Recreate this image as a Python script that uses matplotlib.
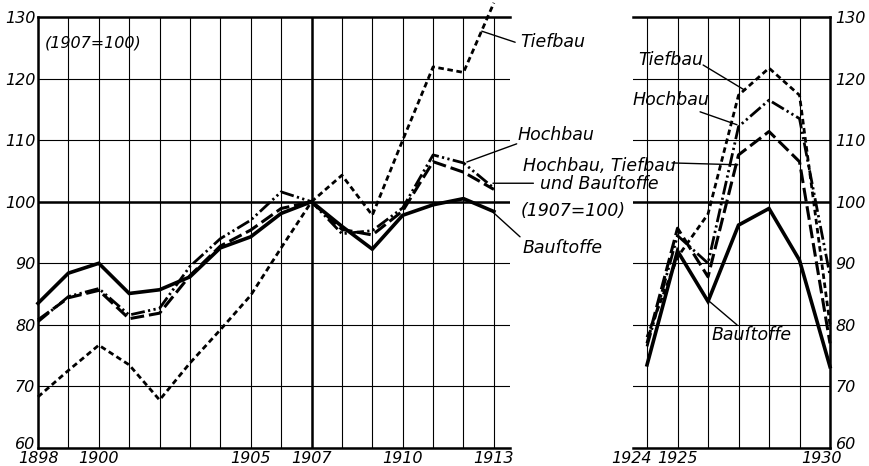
import matplotlib
matplotlib.use("Agg")
import matplotlib.pyplot as plt
from matplotlib.transforms import ScaledTranslation

plt.rcParams['font.family'] = ['DejaVu Sans']
plt.rcParams['font.style'] = 'italic'

# 1898-1913 (1907=100)
years_a = list(range(1898, 1914))
baustoffe_a = [83.5, 88.4, 90.0, 85.1, 85.7, 87.8, 92.5, 94.3, 98.1, 100, 96.0, 92.3, 97.8, 99.5, 100.5, 98.4]
hochbau_a = [80.5, 84.6, 85.9, 81.6, 82.7, 89.5, 94.0, 97.0, 101.6, 100, 94.8, 95.3, 99.0, 107.6, 106.3, 102.2]
tiefbau_a = [68.3, 72.6, 76.7, 73.5, 67.8, 73.8, 79.2, 84.8, 92.5, 100, 104.3, 97.8, 110.0, 121.9, 121.0, 132.3]
gesamt_a = [80.8, 84.4, 85.6, 81.0, 81.9, 88.0, 92.8, 95.4, 98.9, 100, 95.5, 94.6, 98.5, 106.5, 104.8, 102.0]

# 1924-1930
years_b = list(range(1924, 1931))
baustoffe_b = [73.5, 92.0, 83.8, 96.2, 98.9, 90.5, 73.2]
hochbau_b = [76.5, 94.5, 90.0, 112.2, 116.5, 113.5, 88.0]
tiefbau_b = [78.0, 91.0, 98.0, 117.3, 121.7, 117.3, 80.0]
gesamt_b = [77.0, 95.7, 87.8, 107.6, 111.4, 106.5, 77.0]

xlabels_a = {1898: '1898', 1900: '1900', 1905: '1905', 1907: '1907', 1910: '1910', 1913: '1913'}
xlabels_b = {1924: '1924', 1925: '1925', 1930: '1930'}
yticks = [60, 70, 80, 90, 100, 110, 120, 130]

FS = 11.5

fig = plt.figure(figsize=(8.69, 4.66), dpi=100)
ax1 = fig.add_axes([38/869, 18/466, 472/869, 431/466])
ax2 = fig.add_axes([633/869, 18/466, 197/869, 431/466])


def draw(ax, x, b, h, t, g):
    ax.plot(x, t, color='black', lw=2.0, dashes=(2.0, 1.3), clip_on=False, zorder=3)
    ax.plot(x, h, color='black', lw=2.0, dashes=(5, 1.2, 0.8, 1.2, 0.8, 1.2), clip_on=False, zorder=3)
    ax.plot(x, g, color='black', lw=2.2, dashes=(4.5, 1.6), clip_on=False, zorder=3)
    ax.plot(x, b, color='black', lw=2.6, solid_joinstyle='miter', clip_on=False, zorder=4)


def frame(ax, years, labels, xlim, side):
    ax.set_xlim(*xlim)
    ax.set_ylim(60, 130)
    ax.set_xticks(years)
    ax.set_xticklabels([labels.get(y, '') for y in years], fontsize=FS)
    ax.set_yticks(yticks)
    ax.set_yticklabels([str(v) for v in yticks], fontsize=FS)
    ax.tick_params(length=0, pad=2)
    ax.grid(True, color='black', lw=0.8)
    ax.axhline(100, color='black', lw=1.8, zorder=2)
    for s in ['top', 'bottom']:
        ax.spines[s].set_linewidth(1.8)
    if side == 'left':
        ax.spines['right'].set_visible(False)
        ax.spines['left'].set_linewidth(1.8)
    else:
        ax.spines['left'].set_visible(False)
        ax.spines['right'].set_linewidth(1.8)
        ax.yaxis.tick_right()
        ax.tick_params(axis='y', pad=4)
    # lift the lowest value label a little off the year labels
    ax.get_yticklabels()[0].set_transform(
        ax.get_yticklabels()[0].get_transform() + ScaledTranslation(0, 5/100, fig.dpi_scale_trans))


frame(ax1, years_a, xlabels_a, (1898, 1913.53), 'left')
ax1.axvline(1907, color='black', lw=1.8, zorder=2)
frame(ax2, years_b, xlabels_b, (1923.54, 1930), 'right')

draw(ax1, years_a, baustoffe_a, hochbau_a, tiefbau_a, gesamt_a)
draw(ax2, years_b, baustoffe_b, hochbau_b, tiefbau_b, gesamt_b)

# shift crowded year labels to the left
for lab in ax2.get_xticklabels():
    if lab.get_text() == '1924':
        lab.set_transform(lab.get_transform() + ScaledTranslation(-16/100, 0, fig.dpi_scale_trans))
    if lab.get_text() == '1930':
        lab.set_transform(lab.get_transform() + ScaledTranslation(-9/100, 0, fig.dpi_scale_trans))

line = dict(arrowstyle='-', color='black', lw=1.0, shrinkA=0, shrinkB=0)

# left panel texts
ax1.text(1899.81, 125.8, '(1907=100)', fontsize=FS, ha='center', va='center')
ax1.text(1913.86, 125.9, 'Tiefbau', fontsize=FS + 1, ha='left', va='center')
ax1.annotate('', xy=(1912.6, 127.7), xytext=(1913.7, 125.9), arrowprops=line, annotation_clip=False)
ax1.text(1913.79, 110.8, 'Hochbau', fontsize=FS + 1, ha='left', va='center')
ax1.annotate('', xy=(1912.11, 106.45), xytext=(1913.75, 109.4), arrowprops=line, annotation_clip=False)
fig.text(599.5/869, 1 - 175/466, 'Hochbau, Tiefbau\nund Bauſtoffe', fontsize=FS + 1, ha='center', va='center',
         linespacing=1.0, zorder=5)
ax1.annotate('', xy=(1912.97, 103.0), xytext=(1914.3, 103.0), arrowprops=line, annotation_clip=False)
ax1.text(1915.6, 98.5, '(1907=100)', fontsize=FS + 1, ha='center', va='center')
ax1.text(1913.95, 92.5, 'Bauſtoffe', fontsize=FS + 1, ha='left', va='center')
ax1.annotate('', xy=(1912.97, 98.3), xytext=(1913.86, 94.3), arrowprops=line, annotation_clip=False)

# right panel texts
ax2.annotate('', xy=(1926.98, 106.0), xytext=(1924.82, 106.3), arrowprops=line, annotation_clip=False)
ax2.text(1923.70, 123.0, 'Tiefbau', fontsize=FS + 1, ha='left', va='center')
ax2.annotate('', xy=(1927.21, 118.1), xytext=(1925.84, 122.2), arrowprops=line, annotation_clip=False)
ax2.text(1923.54, 116.5, 'Hochbau', fontsize=FS + 1, ha='left', va='center')
ax2.annotate('', xy=(1926.95, 112.5), xytext=(1925.74, 114.6), arrowprops=line, annotation_clip=False)
ax2.text(1926.13, 78.35, 'Bauſtoffe', fontsize=FS + 1, ha='left', va='center')
ax2.annotate('', xy=(1926.0, 84.0), xytext=(1926.95, 80.0), arrowprops=line, annotation_clip=False)

fig.savefig('out.png', dpi=100)
